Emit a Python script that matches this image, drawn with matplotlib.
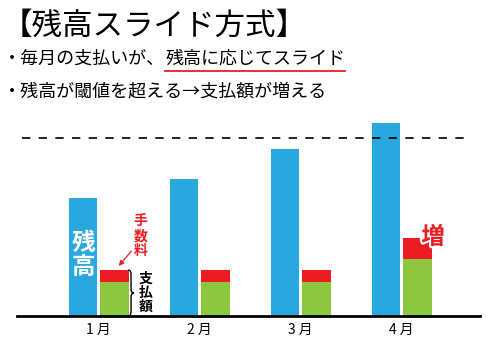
import matplotlib
matplotlib.use('Agg')
import matplotlib.pyplot as plt
import matplotlib.patheffects as pe
from matplotlib.path import Path
from matplotlib.patches import PathPatch
import numpy as np

plt.rcParams['font.family'] = ['Noto Sans CJK JP', 'DejaVu Sans']

# data
months = ['1 月', '2 月', '3 月', '4 月']
balance = [118, 137, 167, 193]
payment = [34, 34, 34, 57]
fee = [12, 12, 12, 21]
threshold = 178

W, H = 490, 350
fig = plt.figure(figsize=(W / 100, H / 100), dpi=100)


def fx(px):
    return px / W


def fy(py):
    return 1 - py / H


ax = fig.add_axes([fx(17), fy(316), (480 - 17) / W, (316 - 110) / H])
x = np.arange(len(months))
bw = 0.28
off = 0.156
blue, green, red = '#29A8E0', '#8DC63F', '#ED1C24'

ax.bar(x - off, balance, bw, color=blue)
ax.bar(x + off, payment, bw, color=green)
ax.bar(x + off, fee, bw, bottom=payment, color=red)
ax.hlines(threshold, -0.76, 3.676, colors='black', lw=1.2, linestyles=(0, (5, 5)))

ax.set_xlim(-0.81, 3.775)
ax.set_ylim(0, 206)
ax.set_xticks(x)
ax.set_xticklabels(months, fontsize=10)
ax.tick_params(axis='x', length=0, pad=5)
ax.set_yticks([])
for s in ['top', 'left', 'right']:
    ax.spines[s].set_visible(False)
ax.spines['bottom'].set_linewidth(2)

# annotations
ax.text(0 - off, 61, '残\n高', color='white', fontsize=17, fontweight='bold',
        ha='center', va='center', linespacing=1.0)
ax.text(0.41, 80, '手\n数\n料', color=red, fontsize=10, fontweight='bold',
        ha='center', va='center', linespacing=1.05)
ax.annotate('', xy=(0.18, 48), xytext=(0.34, 67),
            arrowprops=dict(arrowstyle='-|>', color=red, lw=0.9, mutation_scale=7))
ax.text(0.46, 23, '支\n払\n額', color='black', fontsize=10, fontweight='bold',
        ha='center', va='center', linespacing=1.0)
ax.text(3.31, 79, '増', color=red, fontsize=17, fontweight='bold',
        ha='center', va='center',
        path_effects=[pe.withStroke(linewidth=3, foreground='white')])

# brace next to the payment bar
def px2d(px, py):
    return ((px - 98.75) / 101, 316 - py)

pts = [(128, 270), (131, 270), (131, 274), (131, 289), (131, 293), (134, 293),
       (131, 293), (131, 297), (131, 312), (131, 316), (128, 316)]
codes = [Path.MOVETO, Path.CURVE3, Path.CURVE3, Path.LINETO, Path.CURVE3, Path.CURVE3,
         Path.CURVE3, Path.CURVE3, Path.LINETO, Path.CURVE3, Path.CURVE3]
ax.add_patch(PathPatch(Path([px2d(*p) for p in pts], codes), fill=False,
                       edgecolor='black', lw=1.0, clip_on=False))

# header text
fig.text(fx(2), fy(26), '【残高スライド方式】', fontsize=22, va='center', ha='left')
t1 = fig.text(fx(3), fy(59), '・毎月の支払いが、', fontsize=13, va='center', ha='left')
fig.canvas.draw()
r = fig.canvas.get_renderer()
bb = t1.get_window_extent(r)
t2 = fig.text(bb.x1 / W, fy(59), '残高に応じてスライド', fontsize=13, va='center', ha='left')
bb2 = t2.get_window_extent(r)
fig.add_artist(plt.Line2D([bb2.x0 / W, bb2.x1 / W], [fy(71), fy(71)],
                          color=red, lw=1.3))
fig.text(fx(3), fy(91), '・残高が閾値を超える→支払額が増える', fontsize=13, va='center', ha='left')

fig.savefig('out.png', dpi=100)
